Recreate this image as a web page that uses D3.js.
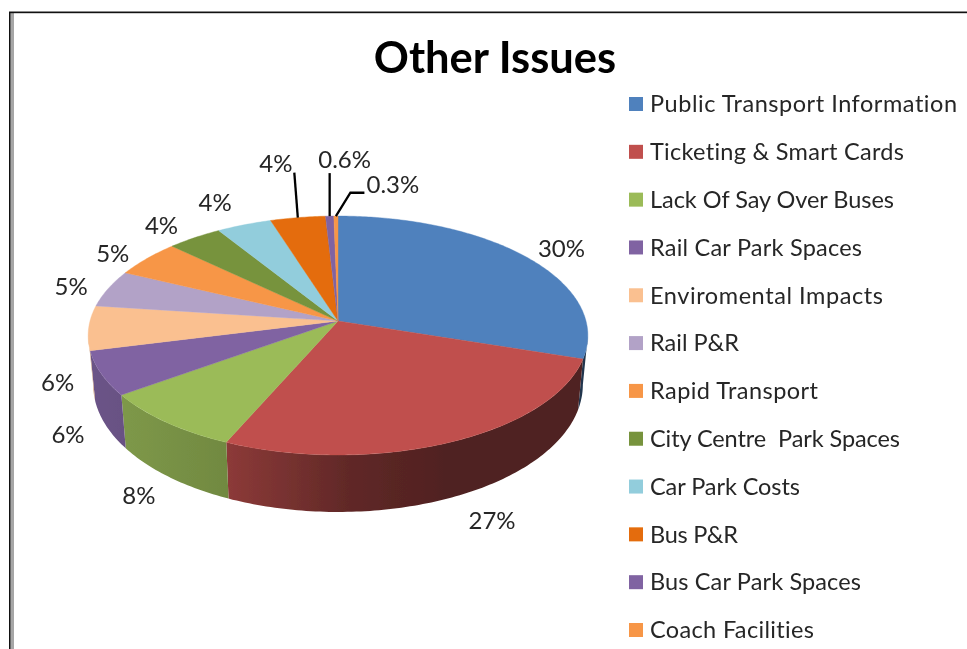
<!DOCTYPE html>
<html><head><meta charset="utf-8">
<script src="https://cdnjs.cloudflare.com/ajax/libs/d3/7.8.5/d3.min.js"></script>
<style>html,body{margin:0;padding:0;background:#fff;overflow:hidden}svg{display:block}text{font-family:Lato,"Open Sans",sans-serif;font-variant-ligatures:none}</style>
</head><body><script>
const title = "Other Issues";
const categories = ["Public Transport Information","Ticketing & Smart Cards","Lack Of Say Over Buses","Rail Car Park Spaces","Enviromental Impacts","Rail P&R","Rapid Transport","City Centre  Park Spaces","Car Park Costs","Bus P&R","Bus Car Park Spaces","Coach Facilities"];
const values = [30,26.5,8.5,6,6,5,5,4,4,4,0.6,0.3];
const valueLabels = ["30%","27%","8%","6%","6%","5%","5%","4%","4%","4%","0.6%","0.3%"];
const colors = ["#4f81bd","#c0504d","#9bbb59","#8064a2","#fac090","#b2a2c7","#f79646","#77933c","#92cddc","#e46c0a","#8064a2","#f79646"];

// layout (separate from data)
const W=967,H=649;
const cx=338,cy=321,A=248,B=117.7,K=0.1214;
const labelOffsets=[[36,-8],[40,79],[-27,73],[-33,61],[-31,55],[-37,-2],[-34,-5],[-33,-12],[-29,-22],[-22,-54],[15,-57],[57,-31]];
const leaderOffsets={9:[[0,0],[-3.5,-45]],10:[[0,0],[0,-43]],11:[[0,0],[14.5,-23.3],[28.5,-23.3]]};
const legendTextWidths=[307,254,244,212,233,89,168,250,150,88,211,164];
const shadeStops=[[0,.84],[.28,.73],[.524,.5],[.724,.41],[1,.41]];

const root=d3.select("body").append("svg").attr("width",W).attr("height",H);
const defs=root.append("defs");
defs.append("filter").attr("id","soft").attr("filterUnits","userSpaceOnUse")
  .attr("x",0).attr("y",0).attr("width",W).attr("height",H)
  .append("feGaussianBlur").attr("stdDeviation",0.4);
root.append("rect").attr("width",W).attr("height",H).attr("fill","#fff");
const svg=root.append("g").attr("filter","url(#soft)");

// window frame
root.append("rect").attr("x",10).attr("y",13).attr("width",4).attr("height",H).attr("fill","#a6a6a6");
root.append("rect").attr("x",9).attr("y",12).attr("width",1.4).attr("height",H).attr("fill","#111");
root.append("rect").attr("x",9).attr("y",11).attr("width",W).attr("height",1).attr("fill","#8a8a8a");
root.append("rect").attr("x",9).attr("y",12).attr("width",W).attr("height",1.2).attr("fill","#111");

function topPt(a,r=1){const u=Math.sin(a)*r,v=-Math.cos(a)*r,d=1-K*v;return [cx+A*u/d,cy+B*v/d];}
function botPt(a){const p=topPt(a),v=-Math.cos(a);return [cx+(p[0]-cx)*.98,p[1]+48+9*v];}
const line=d3.line();

const arcs=d3.pie().sort(null).value(d=>d).startAngle(0).endAngle(2*Math.PI)(values);
const vis0=97*Math.PI/180,vis1=263*Math.PI/180;

// side walls
const sideG=svg.append("g");
arcs.forEach((s,i)=>{
  const a0=Math.max(s.startAngle,vis0),a1=Math.min(s.endAngle,vis1);
  if(a1<=a0) return;
  const id="side"+i,base=d3.rgb(colors[i]);
  const g=defs.append("linearGradient").attr("id",id).attr("gradientUnits","userSpaceOnUse")
    .attr("x1",88).attr("x2",588).attr("y1",0).attr("y2",0);
  shadeStops.forEach(([o,f])=>g.append("stop").attr("offset",o)
    .attr("stop-color",d3.rgb(base.r*f,base.g*f,base.b*f).formatHex()));
  const n=Math.max(4,Math.ceil((a1-a0)*60));
  const as=d3.range(n+1).map(k=>a0+(a1-a0)*k/n);
  const pts=as.map(a=>topPt(a)).concat(as.slice().reverse().map(botPt));
  sideG.append("path").attr("d",line(pts)+"Z").attr("fill",`url(#${id})`);
});

// top face
svg.append("g").selectAll("path").data(arcs).join("path")
  .attr("d",s=>{
    const n=Math.max(3,Math.ceil((s.endAngle-s.startAngle)*80));
    const pts=[[cx,cy]].concat(d3.range(n+1).map(k=>topPt(s.startAngle+(s.endAngle-s.startAngle)*k/n)));
    return line(pts)+"Z";
  })
  .attr("fill",(s,i)=>colors[i]).attr("stroke",(s,i)=>colors[i]).attr("stroke-width",.4);

// leaders
Object.entries(leaderOffsets).forEach(([i,offs])=>{
  const s=arcs[+i],r=topPt((s.startAngle+s.endAngle)/2);
  svg.append("path").attr("d",line(offs.map(o=>[r[0]+o[0],r[1]+o[1]])))
    .attr("fill","none").attr("stroke","#000").attr("stroke-width",2.3);
});

// value labels
svg.append("g").selectAll("text").data(arcs).join("text")
  .attr("x",(s,i)=>topPt((s.startAngle+s.endAngle)/2)[0]+labelOffsets[i][0])
  .attr("y",(s,i)=>topPt((s.startAngle+s.endAngle)/2)[1]+labelOffsets[i][1])
  .attr("dy","0.35em").attr("text-anchor","middle")
  .attr("font-size",24).attr("fill","#262626").text((s,i)=>valueLabels[i]);

// title
svg.append("text").attr("x",495).attr("y",73).attr("text-anchor","middle")
  .attr("font-size",43.5).attr("font-weight",700).attr("fill","#000").text(title);

// legend
const yL=d3.scalePoint().domain(categories).range([104,630]);
const leg=svg.append("g").selectAll("g").data(categories).join("g")
  .attr("transform",d=>`translate(629,${yL(d)})`);
leg.append("rect").attr("y",-7).attr("width",14).attr("height",14).attr("fill",(d,i)=>colors[i]);
leg.append("text").attr("x",21).attr("dy","0.35em").attr("font-size",23.5)
  .attr("textLength",(d,i)=>legendTextWidths[i]).attr("lengthAdjust","spacing")
  .style("white-space","pre").attr("fill","#262626").text(d=>d);
</script></body></html>
